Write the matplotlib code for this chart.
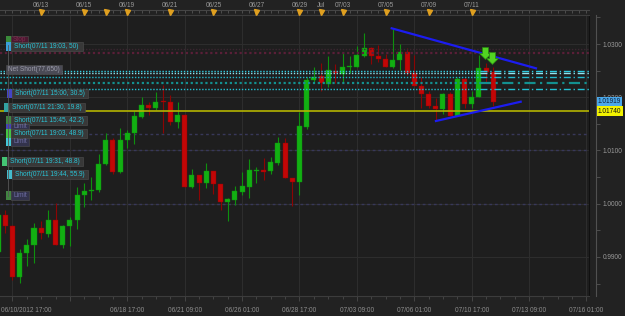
import matplotlib
matplotlib.use("Agg")
from matplotlib import pyplot as plt
from matplotlib.patches import Rectangle
from matplotlib.path import Path
from matplotlib.ticker import MultipleLocator
from matplotlib.transforms import blended_transform_factory

# 8h candles (EUR/CHF style chart) ------------------------------------------------
opens = [0.99094, 0.99789, 0.99582, 0.98615, 0.99066, 0.99225, 0.99544, 0.99432, 0.99695, 0.99225,
         0.99582, 0.99695, 1.00164, 1.00230, 1.00258, 1.00746, 1.01197, 1.00602, 1.01197, 1.01329,
         1.01635, 1.01854, 1.01804, 1.01930, 1.01916, 1.01541, 1.01667, 1.00309, 1.00540, 1.00395,
         1.00615, 1.00371, 1.00027, 1.00070, 1.00215, 1.00320, 1.00615, 1.00634, 1.00615, 1.00771,
         1.01146, 1.00489, 1.00414, 1.01447, 1.02324, 1.02399, 1.02249, 1.02499, 1.02437, 1.02568,
         1.02574, 1.02780, 1.02919, 1.02775, 1.02718, 1.02562, 1.02700, 1.02844, 1.02450, 1.02217,
         1.02061, 1.01836, 1.01774, 1.02061, 1.01648, 1.02337, 1.01873, 1.02010, 1.02544, 1.02480]
highs = [0.99826, 0.99883, 0.99600, 0.99150, 0.99338, 0.99638, 0.99685, 0.99883, 1.00014, 0.99601,
         0.99751, 1.00314, 1.00390, 1.00502, 1.00934, 1.01329, 1.01235, 1.01422, 1.01385, 1.01747,
         1.02010, 1.01916, 1.02104, 1.02230, 1.02042, 1.01916, 1.01680, 1.00652, 1.00545, 1.00765,
         1.00620, 1.00375, 1.00108, 1.00339, 1.00602, 1.00840, 1.00696, 1.00859, 1.00883, 1.01259,
         1.01240, 1.00490, 1.01729, 1.02380, 1.02574, 1.02638, 1.02775, 1.02624, 1.02837, 1.02775,
         1.02962, 1.03212, 1.02949, 1.02981, 1.02807, 1.03276, 1.03000, 1.02919, 1.02793, 1.02375,
         1.02123, 1.01980, 1.02085, 1.02104, 1.02386, 1.02375, 1.02123, 1.02793, 1.02638, 1.02574]
lows = [0.99056, 0.99451, 0.98568, 0.98512, 0.98831, 0.98887, 0.99338, 0.99375, 0.99225, 0.99169,
        0.99206, 0.99526, 0.99939, 1.00070, 1.00221, 1.00728, 1.00559, 1.00577, 1.01047, 1.01122,
        1.01610, 1.01667, 1.01761, 1.01329, 1.01479, 1.01422, 1.00305, 1.00296, 1.00070, 1.00301,
        1.00183, 0.99883, 0.99682, 0.99976, 1.00164, 1.00114, 1.00395, 1.00446, 1.00553, 1.00728,
        1.00489, 0.99958, 1.00164, 1.01404, 1.02292, 1.02123, 1.02198, 1.02262, 1.02292, 1.02450,
        1.02562, 1.02761, 1.02619, 1.02668, 1.02574, 1.02544, 1.02512, 1.02418, 1.02217, 1.01792,
        1.01792, 1.01554, 1.01685, 1.01648, 1.01640, 1.01792, 1.01792, 1.01999, 1.02292, 1.01840]
closes = [0.99789, 0.99582, 0.98615, 0.99066, 0.99225, 0.99544, 0.99441, 0.99695, 0.99225, 0.99582,
          0.99695, 1.00164, 1.00239, 1.00258, 1.00746, 1.01197, 1.00602, 1.01197, 1.01329, 1.01648,
          1.01854, 1.01804, 1.01916, 1.01911, 1.01541, 1.01667, 1.00309, 1.00540, 1.00395, 1.00615,
          1.00371, 1.00027, 1.00083, 1.00239, 1.00339, 1.00634, 1.00634, 1.00602, 1.00778, 1.01146,
          1.00489, 1.00414, 1.01460, 1.02324, 1.02386, 1.02262, 1.02512, 1.02450, 1.02574, 1.02587,
          1.02793, 1.02919, 1.02775, 1.02718, 1.02574, 1.02700, 1.02844, 1.02450, 1.02217, 1.02061,
          1.01836, 1.01779, 1.02061, 1.01648, 1.02337, 1.01873, 1.02010, 1.02544, 1.02480, 1.01919]

# time axis labels (candle index positions) ---------------------------------------
bottom_idx = [18, 26, 34, 42, 50, 58, 66, 74, 82]
bottom_labels = ["06/18 17:00", "06/21 09:00", "06/26 01:00", "06/28 17:00", "07/03 09:00",
                 "07/06 01:00", "07/10 17:00", "07/13 09:00", "07/16 01:00"]
first_label = "06/10/2012 17:00"
top_idx = [6, 12, 18, 24, 30, 36, 42, 45, 48, 54, 60, 66]
top_labels = ["06/13", "06/15", "06/19", "06/21", "06/25", "06/27", "06/29", "Jul",
              "07/03", "07/05", "07/09", "07/11"]
marker_idx = [6, 12, 15, 18, 24, 30, 36, 42, 45, 48, 54, 60, 66]

price_ticks = [0.99, 1.00, 1.01, 1.02, 1.03]

# drawn objects -------------------------------------------------------------------
trend_hi_x = [54.85, 74.96]
trend_hi_y = [1.03295, 1.02544]
trend_lo_x = [61.02, 72.83]
trend_lo_y = [1.01554, 1.01916]

order_levels = [1.02499, 1.02461, 1.02375, 1.02262, 1.02149]
order_colors = ["#2ccbe0", "#8ee6f2", "#22b8cc", "#139090", "#22c0d2"]
stop_levels = [1.02900, 1.02825]
stop_colors = ["#3a2630", "#5a1f38"]
limit_levels = [1.01304, 1.01009, 0.99995]
line_price = 1.01740
last_price = 1.01919

trade_x = [67.9, 68.9]
trade_y = [1.02840, 1.02746]

# order labels at the left edge (text, marker colour, label kind)
tags = [
    ("Stop", "#3a8a3a", "stop"),
    ("Short(07/11 19:03, 50)", "#3aa0d8", "short"),
    ("Net Short(77,650)", None, "net"),
    ("Short(07/11 15:00, 30.5)", "#4444c4", "short"),
    ("Short(07/11 21:30, 19.8)", "#33a2a2", "short"),
    ("Short(07/11 15:45, 42.2)", "#418441", "short"),
    ("Limit", "#4444b4", "limit"),
    ("Short(07/11 19:03, 48.9)", "#44c444", "short"),
    ("Limit", "#44c8d8", "limit"),
    ("Short(07/11 19:31, 48.8)", "#44c474", "short"),
    ("Short(07/11 19:44, 55.9)", "#44bccc", "short"),
    ("Limit", "#418441", "limit"),
]
# box layout in pixels: x of square, top, bottom, right end of box
tag_boxes = [(6, 36, 43, 28), (6, 42, 51, 83), (6, 65, 74, 62), (7, 89, 98, 88),
             (4, 103, 112, 85), (6, 116, 125, 87), (6, 124, 130, 29), (6, 129, 138, 87),
             (6, 138, 146, 29), (2, 157, 166, 83), (7, 170, 179, 88), (6, 191, 200, 29)]

W, H = 625, 316
FONT = "Liberation Sans"


def fx(x):
    return x / W


def fy(y):
    return 1 - y / H


def arrow_marker():
    verts = [(-0.25, 0.5), (0.25, 0.5), (0.25, 0.0), (0.5, 0.0), (0.0, -0.5),
             (-0.5, 0.0), (-0.25, 0.0), (-0.25, 0.5)]
    codes = [Path.MOVETO] + [Path.LINETO] * 6 + [Path.CLOSEPOLY]
    return Path(verts, codes)


def grafico():
    plt.rcParams["font.family"] = [FONT, "DejaVu Sans"]
    fig = plt.figure(figsize=(6.25, 3.16), dpi=100, facecolor="#222222")
    ax = fig.add_axes([0, 20 / H, 589 / W, 281 / H], facecolor="#1e1e1e")
    ax.set_xlim(0.26, 82.35)
    ax.set_ylim(0.98267, 1.03545)

    # grid
    ax.set_xticks(range(2, 83, 8))
    ax.set_xticklabels(["", ""] + bottom_labels)
    ax.xaxis.set_minor_locator(MultipleLocator(2))
    ax.set_yticks(price_ticks)
    ax.grid(True, which="major", color="#2d2d2d", lw=0.8, zorder=0)
    ax.tick_params(axis="y", left=False, labelleft=False)
    ax.tick_params(axis="x", which="both", colors="#4a4a4a", labelcolor="#8e8e8e",
                   labelsize=4.7, length=3.5, width=0.6, pad=4.5)
    ax.tick_params(axis="x", which="minor", length=2.5)
    ax.set_axisbelow(True)
    ax.spines["left"].set_visible(False)
    ax.spines["top"].set_color("#3c3c3c")
    ax.spines["bottom"].set_color("#3c3c3c")
    ax.spines["right"].set_color("#101010")
    ax.text(0.002, -0.05, first_label, transform=ax.transAxes, ha="left", va="center",
            fontsize=4.7, color="#8e8e8e")

    # candles
    for i in range(len(opens)):
        o, h, l, c = opens[i], highs[i], lows[i], closes[i]
        up = c >= o
        body = "#12b012" if up else "#c20606"
        wick = "#0e900e" if up else "#8c0404"
        ax.vlines(i, l, h, color=wick, lw=0.8, zorder=3)
        hgt = max(abs(c - o), 0.00016)
        ax.bar(i, hgt, bottom=min(o, c), width=0.7, color=body, edgecolor=wick,
               lw=0.3, zorder=4)

    # order / stop / limit lines
    for lvl, col in zip(stop_levels, stop_colors):
        ax.axhline(lvl, color=col, lw=1.6 if col == "#5a1f38" else 1.0, ls=(0, (1, 1.2)), zorder=5)
    for lvl in limit_levels:
        ax.axhline(lvl, color="#38385a", lw=1.0, ls=(0, (2, 2)), zorder=2)
    for lvl, col in zip(order_levels, order_colors):
        lw = 1.6 if col == "#139090" else 1.0
        ax.plot([0.26, 67.2], [lvl, lvl], color=col, lw=lw, ls=(0, (1, 1.2)), zorder=5)
        ax.plot([67.2, 82.35], [lvl, lvl], color=col, lw=lw, ls=(0, (5, 2, 1, 2)), zorder=5)
    ax.axhline(line_price, color="#b4b400", lw=1.2, zorder=5)

    # trend lines
    ax.plot(trend_hi_x, trend_hi_y, color="#1c1cf0", lw=1.6, zorder=6)
    ax.plot(trend_lo_x, trend_lo_y, color="#1c1cf0", lw=1.6, zorder=6)

    # trade arrows
    ax.plot(trade_x, trade_y, ls="none", marker=arrow_marker(), ms=8.5,
            mfc="#52d422", mec="#2a8a14", mew=0.6, zorder=7)

    # right price axis
    sec = ax.secondary_yaxis(596 / 589)
    sec.set_yticks(price_ticks)
    sec.set_yticklabels(["%.4f" % p for p in price_ticks])
    sec.yaxis.set_minor_locator(MultipleLocator(0.005))
    sec.tick_params(which="both", colors="#555555", labelcolor="#9a9a9a", labelsize=4.7,
                    length=3, width=0.6, pad=1.5)
    sec.spines["right"].set_color("#505050")
    tr = blended_transform_factory(fig.transFigure, ax.transData)
    ax.text(598 / W, last_price, "%.5f" % last_price, transform=tr, ha="left", va="center",
            fontsize=4.7, color="#0e1e38", clip_on=False, zorder=10,
            bbox=dict(boxstyle="square,pad=0.18", fc="#4aa8ea", ec="none"))
    ax.text(598 / W, line_price, "%.5f" % line_price, transform=tr, ha="left", va="center",
            fontsize=4.7, color="#101010", clip_on=False, zorder=10,
            bbox=dict(boxstyle="square,pad=0.18", fc="#f2f200", ec="none"))

    # top date axis
    top = ax.secondary_xaxis(1 + 5 / 281)
    top.set_xticks(top_idx)
    top.set_xticklabels(top_labels)
    top.xaxis.set_minor_locator(MultipleLocator(1))
    top.tick_params(which="both", direction="in", colors="#555555", labelcolor="#9a9a9a",
                    labelsize=4.7, length=2, width=0.6, pad=0.8)
    top.spines["top"].set_color("#454545")
    trt = blended_transform_factory(ax.transData, ax.transAxes)
    ax.plot(marker_idx, [1.0107] * len(marker_idx), ls="none", marker="v", ms=3.6,
            color="#e0a020", transform=trt, clip_on=False, zorder=10)

    # left order labels
    fig.add_artist(plt.Line2D([fx(7.5), fx(7.5)], [fy(45), fy(196)], color="#555555", lw=0.6))
    for (txt, sq, kind), (x0, y0, y1, x1) in zip(tags, tag_boxes):
        if kind == "net":
            box_fc, txt_c, tx = "#4a4a55", "#9a9aa8", x0 + 2
        elif kind == "limit":
            box_fc, txt_c, tx = "#33334c", "#6e6ea4", x0 + 7
        elif kind == "stop":
            box_fc, txt_c, tx = "#4a1830", "#7a2c4c", x0 + 7
        else:
            box_fc, txt_c, tx = "#383838", "#2ac4d6", x0 + 8
        bx = x0 if kind == "net" else x0 + 5
        fig.add_artist(Rectangle((fx(bx), fy(y1)), (x1 - bx) / W, (y1 - y0) / H,
                                 transform=fig.transFigure, fc=box_fc, ec="#505050", lw=0.4))
        if sq is not None:
            fig.add_artist(Rectangle((fx(x0), fy(y1)), 5 / W, (y1 - y0) / H,
                                     transform=fig.transFigure, fc=sq, ec="none"))
        fig.text(fx(tx), fy((y0 + y1) / 2), txt, fontsize=4.7, color=txt_c,
                 ha="left", va="center")

    fig.savefig("out.png", dpi=100, facecolor=fig.get_facecolor())


def main():
    grafico()


if __name__ == "__main__":
    main()
